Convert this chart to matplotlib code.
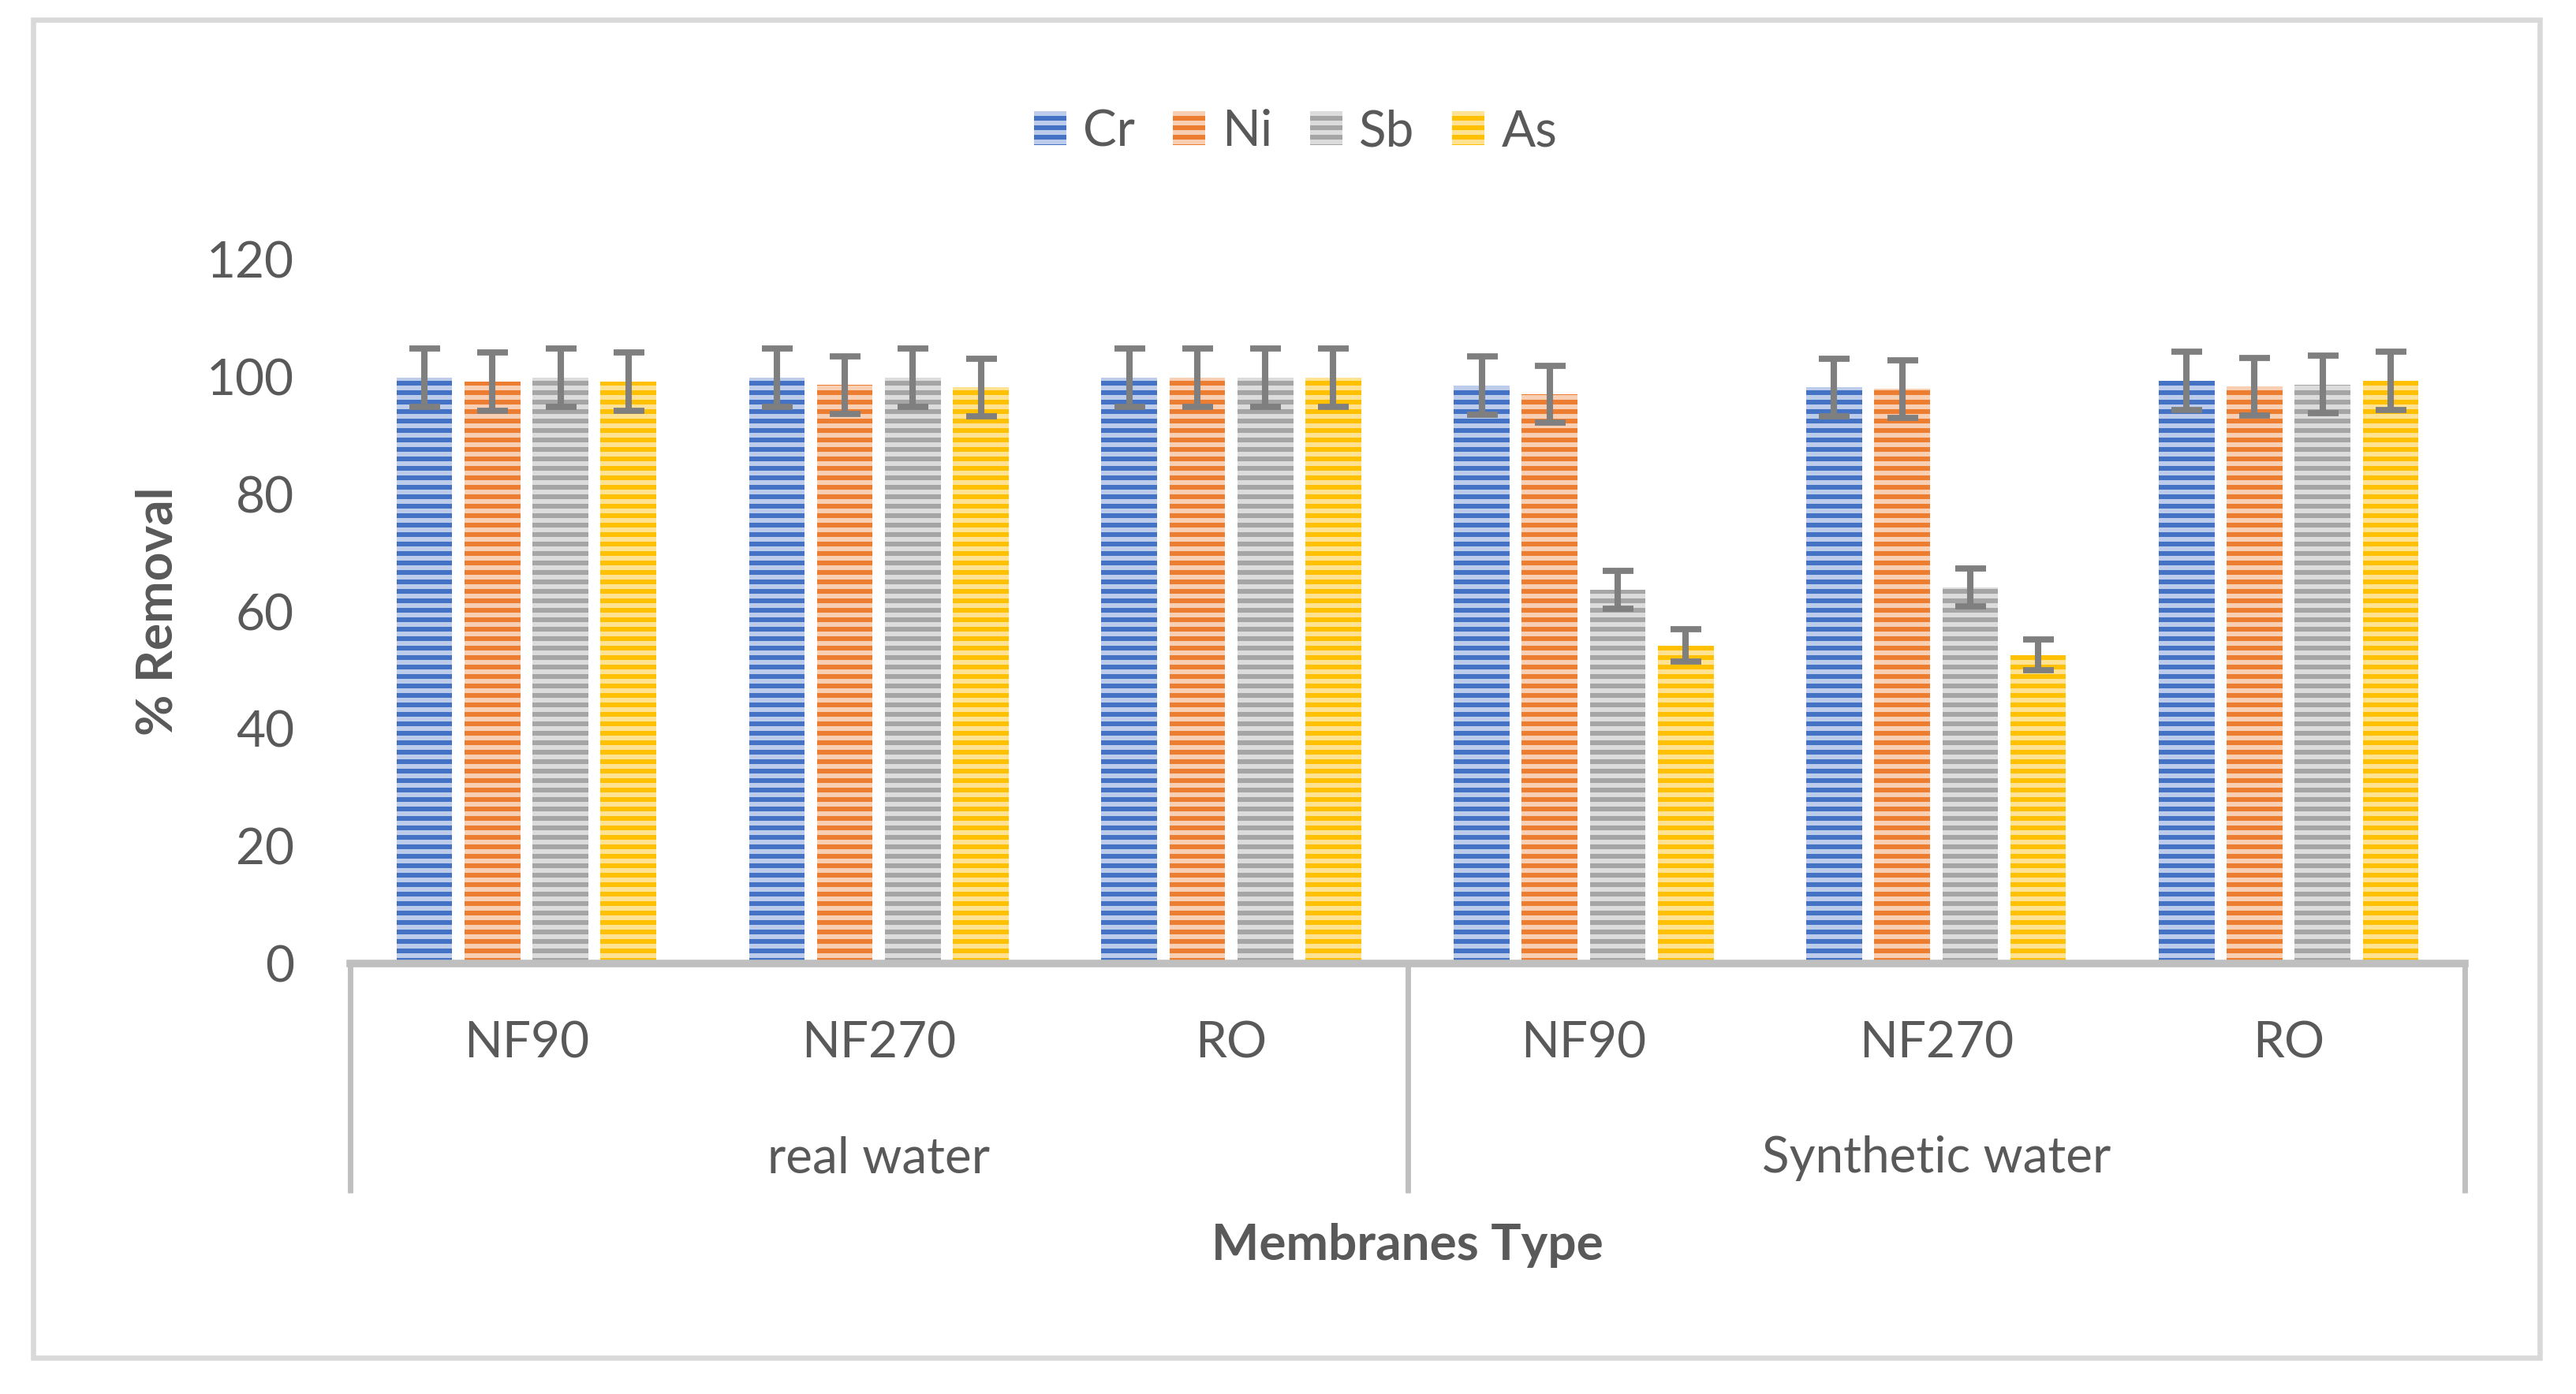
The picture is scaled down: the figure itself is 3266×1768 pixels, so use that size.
#!/usr/bin/env python3
"""
plot.py - % removal of Cr, Ni, Sb, As by membrane type (real vs synthetic water).
"""

import numpy as np
import matplotlib.pyplot as plt
from matplotlib.patches import Rectangle

# ---- data ----
membranes = ["NF90", "NF270", "RO", "NF90", "NF270", "RO"]
water_types = ["real water", "Synthetic water"]
metals = ["Cr", "Ni", "Sb", "As"]

cr = [99.8, 99.8, 99.8, 98.5, 98.2, 99.3]
ni = [99.2, 98.6, 99.8, 97.0, 97.9, 98.3]
sb = [99.8, 99.8, 99.8, 63.7, 64.1, 98.7]
as_ = [99.2, 98.2, 99.8, 54.2, 52.6, 99.3]

cr_err = [4.99, 4.99, 4.99, 4.93, 4.91, 4.97]
ni_err = [4.96, 4.93, 4.99, 4.85, 4.90, 4.92]
sb_err = [4.99, 4.99, 4.99, 3.19, 3.21, 4.94]
as_err = [4.96, 4.91, 4.99, 2.71, 2.63, 4.97]

yticks = [0, 20, 40, 60, 80, 100, 120]

# ---- style ----
main_colors = ["#4472C4", "#ED7D31", "#A5A5A5", "#FFC000"]
light_colors = ["#BCCCEA", "#F9CFB3", "#DCDCDC", "#FFE393"]
txt = "#595959"
axis_gray = "#BFBFBF"
DPI = 216
W, H = 3266, 1768

plt.rcParams["font.family"] = ["Lato", "DejaVu Sans"]
plt.rcParams["hatch.linewidth"] = 2.0
FS = 21.3

fig = plt.figure(figsize=(W / DPI, H / DPI), dpi=DPI)
ax_l, ax_r, ax_t, ax_b = 444, 3125, 329, 1222
ax = fig.add_axes([ax_l / W, 1 - ax_b / H, (ax_r - ax_l) / W, (ax_b - ax_t) / H])

def ay(ypx):
    # pixel row below the x axis -> axes fraction
    return -(ypx - ax_b) / (ax_b - ax_t)

x = np.arange(len(membranes))
width = 0.158
step = 0.193
series = [cr, ni, sb, as_]
errs = [cr_err, ni_err, sb_err, as_err]

for i, (vals, err) in enumerate(zip(series, errs)):
    xs = x + (i - 1.5) * step
    ax.bar(xs, vals, width, facecolor=light_colors[i], edgecolor=main_colors[i],
           linewidth=0, hatch="---", label=metals[i], zorder=2)
    ax.errorbar(xs, vals, yerr=err, fmt="none", ecolor="#7F7F7F", elinewidth=2.7,
                capsize=6.5, capthick=2.6, zorder=3)

ax.set_xlim(-0.5, len(membranes) - 0.5)
ax.set_ylim(0, 120)
ax.set_yticks(yticks)
ax.set_yticklabels([str(v) for v in yticks])
ax.tick_params(axis="y", length=0, pad=23.7, labelsize=FS, labelcolor=txt)
ax.set_xticks([])
for s in ["top", "right", "left"]:
    ax.spines[s].set_visible(False)
ax.spines["bottom"].set_color(axis_gray)
ax.spines["bottom"].set_linewidth(3.2)
ax.spines["bottom"].set_zorder(4)

# multi-level category axis box
for xv in [-0.5, 2.5, 5.5]:
    ax.plot([xv, xv], [0, ay(1513)], color=axis_gray, lw=2.3,
            transform=ax.get_xaxis_transform(), clip_on=False, solid_capstyle="butt")

tr = ax.get_xaxis_transform()
for xi, name in zip(x, membranes):
    ax.text(xi, ay(1342), name, transform=tr, ha="center", va="baseline",
            fontsize=FS, color=txt)
for gi, name in enumerate(water_types):
    ax.text(gi * 3 + 1, ay(1487), name, transform=tr, ha="center", va="baseline",
            fontsize=FS, color=txt)
ax.text(2.5, ay(1598), "Membranes Type", transform=tr, ha="center", va="baseline",
        fontsize=FS, color=txt, fontweight="bold")

ax.set_ylabel("% Removal", fontsize=FS, color=txt, fontweight="bold")
ax.yaxis.set_label_coords((229 - ax_l) / (ax_r - ax_l), 0.5)

fig.legend(loc="center", bbox_to_anchor=(0.503, 1 - 167 / H), ncol=4, frameon=False,
           fontsize=FS, labelcolor=txt, handlelength=0.64, handleheight=0.64,
           handletextpad=0.33, columnspacing=0.75)

# outer chart border
fig.patches.append(Rectangle((42 / W, 1 - 1722 / H), (3220 - 42) / W, (1722 - 25) / H,
                             transform=fig.transFigure, fill=False,
                             edgecolor="#D9D9D9", linewidth=2.2))

fig.savefig("out.png", dpi=DPI, facecolor="white")
